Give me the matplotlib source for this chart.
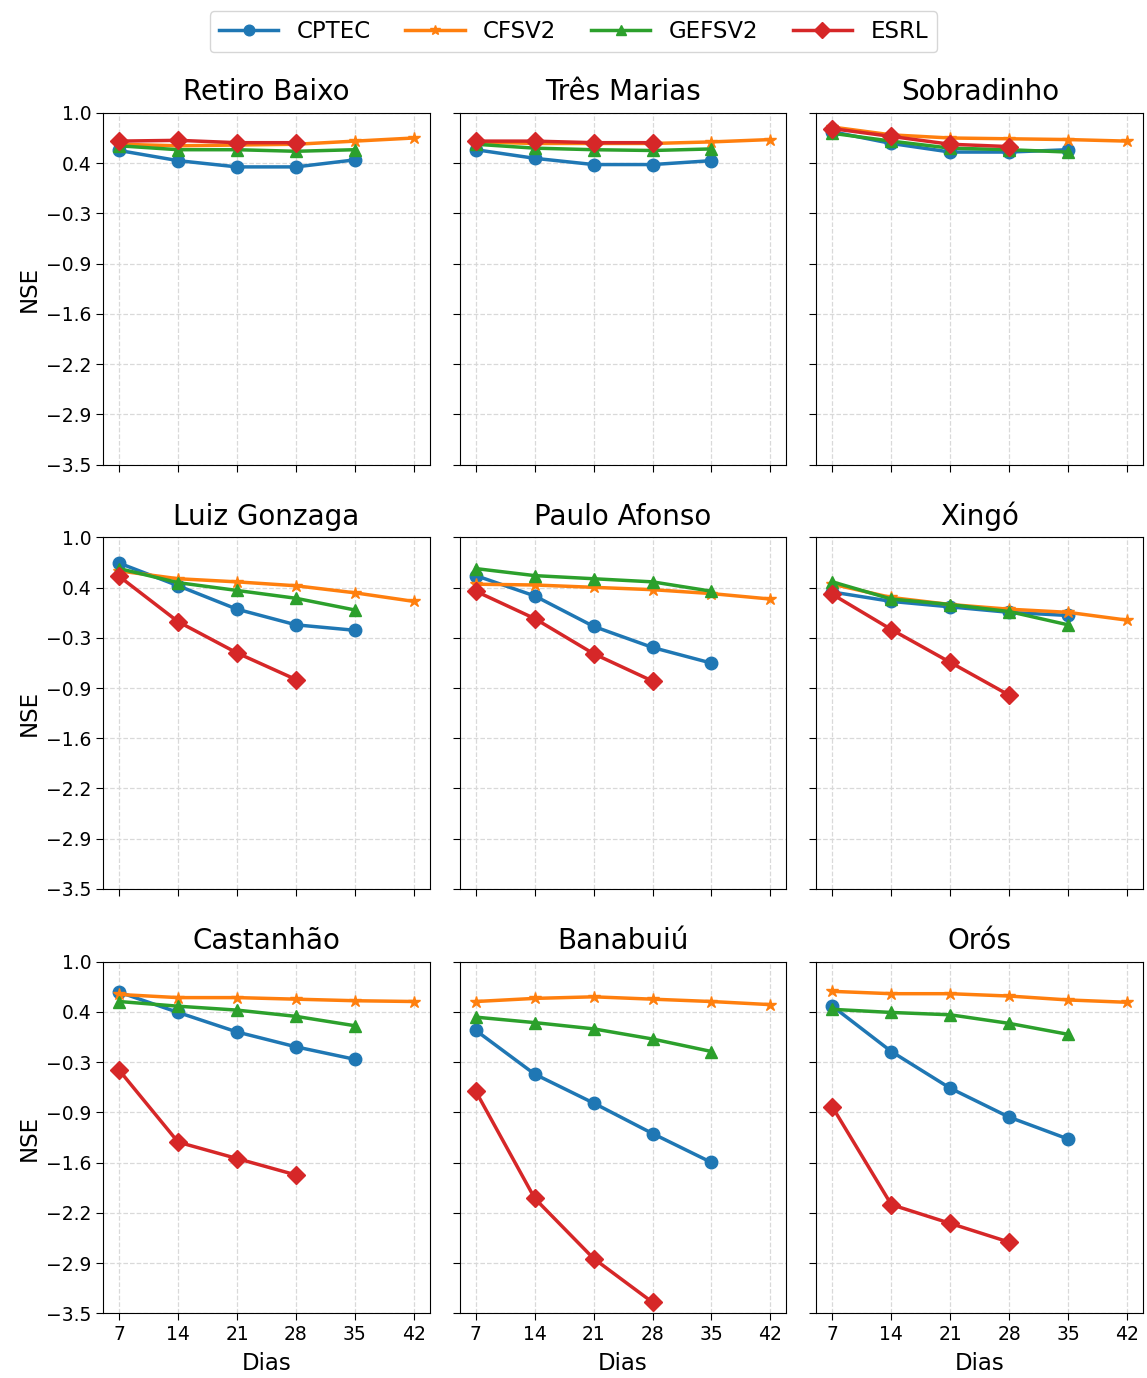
import numpy as np
import matplotlib
matplotlib.use("Agg")
import matplotlib.pyplot as plt

# Lead times (days)
DIAS = [7, 14, 21, 28, 35, 42]

STATIONS = ["Retiro Baixo", "Três Marias", "Sobradinho",
            "Luiz Gonzaga", "Paulo Afonso", "Xingó",
            "Castanhão", "Banabuiú", "Orós"]

# NSE per station
CPTEC = [
    [0.52, 0.39, 0.31, 0.31, 0.40],
    [0.53, 0.42, 0.34, 0.34, 0.39],
    [0.76, 0.61, 0.50, 0.50, 0.53],
    [0.67, 0.38, 0.08, -0.12, -0.19],
    [0.51, 0.25, -0.14, -0.41, -0.61],
    [0.30, 0.18, 0.11, 0.04, 0.00],
    [0.61, 0.35, 0.10, -0.09, -0.25],
    [0.12, -0.44, -0.81, -1.20, -1.57],
    [0.43, -0.15, -0.62, -0.99, -1.27],
]
CFSV2 = [
    [0.60, 0.58, 0.59, 0.60, 0.64, 0.68],
    [0.63, 0.61, 0.61, 0.61, 0.63, 0.66],
    [0.82, 0.72, 0.68, 0.67, 0.66, 0.64],
    [0.57, 0.47, 0.43, 0.38, 0.29, 0.18],
    [0.40, 0.39, 0.36, 0.33, 0.28, 0.21],
    [0.40, 0.23, 0.14, 0.08, 0.04, -0.06],
    [0.58, 0.54, 0.54, 0.52, 0.50, 0.49],
    [0.49, 0.53, 0.55, 0.52, 0.49, 0.45],
    [0.62, 0.59, 0.59, 0.56, 0.51, 0.48],
]
GEFSV2 = [
    [0.58, 0.53, 0.53, 0.51, 0.53],
    [0.60, 0.55, 0.53, 0.52, 0.54],
    [0.74, 0.64, 0.55, 0.53, 0.50],
    [0.60, 0.42, 0.32, 0.22, 0.07],
    [0.60, 0.51, 0.47, 0.43, 0.31],
    [0.43, 0.21, 0.14, 0.05, -0.12],
    [0.49, 0.43, 0.38, 0.30, 0.18],
    [0.29, 0.22, 0.14, 0.01, -0.15],
    [0.39, 0.35, 0.32, 0.21, 0.07],
]
ESRL = [
    [0.64, 0.65, 0.62, 0.62],
    [0.64, 0.64, 0.62, 0.62],
    [0.80, 0.70, 0.60, 0.57],
    [0.50, -0.08, -0.48, -0.82],
    [0.31, -0.04, -0.49, -0.84],
    [0.27, -0.18, -0.60, -1.02],
    [-0.39, -1.31, -1.52, -1.73],
    [-0.66, -2.03, -2.80, -3.36],
    [-0.86, -2.11, -2.35, -2.59],
]

MODELS = ["CPTEC", "CFSV2", "GEFSV2", "ESRL"]
SERIES = [CPTEC, CFSV2, GEFSV2, ESRL]
COLORS = ["tab:blue", "tab:orange", "tab:green", "tab:red"]
MARKERS = ["o", "*", "^", "D"]

YTICKS = list(np.linspace(-3.5, 1.0, 8))
YTICKLABELS = ["−3.5", "−2.9", "−2.2", "−1.6", "−0.9", "−0.3", "0.4", "1.0"]
XTICKS = [7, 14, 21, 28, 35, 42]

fig, axes = plt.subplots(3, 3, figsize=(11.47, 13.78), dpi=100,
                         sharex=True, sharey=True)
fig.subplots_adjust(left=0.090, right=0.9965, top=0.918, bottom=0.047,
                    hspace=0.207, wspace=0.092)

for i, ax in enumerate(axes.flat):
    for name, data, c, m in zip(MODELS, SERIES, COLORS, MARKERS):
        vals = data[i]
        ax.plot(DIAS[:len(vals)], vals, color=c, marker=m, markersize=9,
                linewidth=2.5, label=name)
    ax.set_title(STATIONS[i], fontsize=20, pad=9)
    ax.grid(True, linestyle="--", color="0.85", linewidth=0.9)
    ax.set_ylim(-3.5, 1.0)
    ax.set_xlim(5.1, 43.9)
    ax.set_yticks(YTICKS)
    ax.set_yticklabels(YTICKLABELS)
    ax.set_xticks(XTICKS)
    ax.tick_params(labelsize=13.5, length=5)

for r in range(3):
    axes[r, 0].set_ylabel("NSE", fontsize=16.5)
for c in range(3):
    axes[2, c].set_xlabel("Dias", fontsize=16.5, labelpad=6)

handles, labels = axes[0, 0].get_legend_handles_labels()
fig.legend(handles, labels, loc="upper center", ncol=4, fontsize=16.5,
           bbox_to_anchor=(0.5, 0.997), columnspacing=1.5, handlelength=2.6,
           markerscale=0.85, borderaxespad=0.3)

plt.savefig("out.png", dpi=100)
